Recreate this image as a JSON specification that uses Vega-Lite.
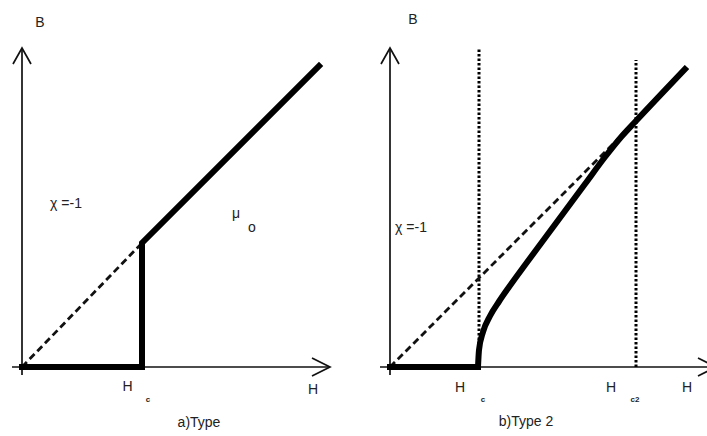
{
  "$schema": "https://vega.github.io/schema/vega-lite/v6.json",
  "padding": 0,
  "spacing": 0,
  "background": "white",
  "config": {"view": {"stroke": null}, "concat": {"spacing": 0}},
  "datasets": {
    "linesA": [
      {"kind": "axis", "seg": "y", "i": 0, "H": 0, "B": -0.8},
      {"kind": "axis", "seg": "y", "i": 1, "H": 0, "B": 31.9},
      {"kind": "axis", "seg": "yarrow", "i": 0, "H": -0.9, "B": 30.3},
      {"kind": "axis", "seg": "yarrow", "i": 1, "H": 0, "B": 31.9},
      {"kind": "axis", "seg": "yarrow", "i": 2, "H": 0.9, "B": 30.3},
      {"kind": "axis", "seg": "x", "i": 0, "H": -1.0, "B": 0},
      {"kind": "axis", "seg": "x", "i": 1, "H": 30.8, "B": 0},
      {"kind": "axis", "seg": "xarrow", "i": 0, "H": 29.0, "B": 0.9},
      {"kind": "axis", "seg": "xarrow", "i": 1, "H": 30.8, "B": 0},
      {"kind": "axis", "seg": "xarrow", "i": 2, "H": 29.0, "B": -0.9},
      {"kind": "B", "seg": "B", "i": 0, "H": 0, "B": 0},
      {"kind": "B", "seg": "B", "i": 1, "H": 12.0, "B": 0},
      {"kind": "B", "seg": "B", "i": 2, "H": 12.0, "B": 12.4},
      {"kind": "B", "seg": "B", "i": 3, "H": 29.7, "B": 30.1},
      {"kind": "mu0H", "seg": "ref", "i": 0, "H": 0, "B": 0},
      {"kind": "mu0H", "seg": "ref", "i": 1, "H": 12.0, "B": 12.4}
    ],
    "textA": [
      {"role": "label", "text": "B", "H": 1.8, "B": 34.4},
      {"role": "label", "text": "χ  =-1", "H": 4.4, "B": 16.3},
      {"role": "label", "text": "μ", "H": 21.4, "B": 15.3},
      {"role": "label", "text": "o", "H": 23.0, "B": 13.9},
      {"role": "label", "text": "H", "H": 10.55, "B": -2.0},
      {"role": "sub", "text": "c", "H": 12.6, "B": -3.25},
      {"role": "label", "text": "H", "H": 29.1, "B": -2.3},
      {"role": "label", "text": "a)Type", "H": 17.7, "B": -5.6}
    ],
    "linesB": [
      {"kind": "axis", "seg": "y", "i": 0, "H": 0, "B": -0.8},
      {"kind": "axis", "seg": "y", "i": 1, "H": 0, "B": 31.9},
      {"kind": "axis", "seg": "yarrow", "i": 0, "H": -0.9, "B": 30.3},
      {"kind": "axis", "seg": "yarrow", "i": 1, "H": 0, "B": 31.9},
      {"kind": "axis", "seg": "yarrow", "i": 2, "H": 0.9, "B": 30.3},
      {"kind": "axis", "seg": "x", "i": 0, "H": -1.0, "B": 0},
      {"kind": "axis", "seg": "x", "i": 1, "H": 32.6, "B": 0},
      {"kind": "axis", "seg": "xarrow", "i": 0, "H": 30.8, "B": 0.9},
      {"kind": "axis", "seg": "xarrow", "i": 1, "H": 32.6, "B": 0},
      {"kind": "axis", "seg": "xarrow", "i": 2, "H": 30.8, "B": -0.9},
      {"kind": "Bflat", "seg": "B", "i": 0, "H": 0, "B": 0},
      {"kind": "Bflat", "seg": "B", "i": 1, "H": 8.8, "B": 0},
      {"kind": "B", "seg": "B", "i": 1, "H": 8.8, "B": 0},
      {"kind": "B", "seg": "B", "i": 2, "H": 8.9, "B": 1.7},
      {"kind": "B", "seg": "B", "i": 3, "H": 9.3, "B": 3.5},
      {"kind": "B", "seg": "B", "i": 4, "H": 10.0, "B": 5.1},
      {"kind": "B", "seg": "B", "i": 5, "H": 10.9, "B": 6.55},
      {"kind": "B", "seg": "B", "i": 6, "H": 11.9, "B": 8.0},
      {"kind": "B", "seg": "B", "i": 7, "H": 13.5, "B": 10.2},
      {"kind": "B", "seg": "B", "i": 8, "H": 15.5, "B": 12.9},
      {"kind": "B", "seg": "B", "i": 9, "H": 17.5, "B": 15.6},
      {"kind": "B", "seg": "B", "i": 10, "H": 19.5, "B": 18.3},
      {"kind": "B", "seg": "B", "i": 11, "H": 21.5, "B": 21.0},
      {"kind": "B", "seg": "B", "i": 12, "H": 23.2, "B": 23.1},
      {"kind": "B", "seg": "B", "i": 13, "H": 24.5, "B": 24.5},
      {"kind": "B", "seg": "B", "i": 14, "H": 29.7, "B": 30.0},
      {"kind": "mu0H", "seg": "ref", "i": 0, "H": 0, "B": 0},
      {"kind": "mu0H", "seg": "ref", "i": 1, "H": 24.5, "B": 24.5},
      {"kind": "field", "seg": "Hc1", "i": 0, "H": 8.9, "B": 0},
      {"kind": "field", "seg": "Hc1", "i": 1, "H": 8.9, "B": 31.9},
      {"kind": "field", "seg": "Hc2", "i": 0, "H": 24.6, "B": 0},
      {"kind": "field", "seg": "Hc2", "i": 1, "H": 24.6, "B": 30.7}
    ],
    "textB": [
      {"role": "label", "text": "B", "H": 2.3, "B": 34.7},
      {"role": "label", "text": "χ  =-1", "H": 2.1, "B": 13.9},
      {"role": "label", "text": "H", "H": 7.0, "B": -2.1},
      {"role": "sub", "text": "c", "H": 9.3, "B": -3.3},
      {"role": "label", "text": "H", "H": 22.1, "B": -2.1},
      {"role": "sub", "text": "c2", "H": 24.5, "B": -3.25},
      {"role": "label", "text": "H", "H": 29.7, "B": -2.1},
      {"role": "label", "text": "b)Type 2", "H": 13.6, "B": -5.5}
    ]
  },
  "hconcat": [
    {
      "width": 353,
      "height": 436,
      "encoding": {
        "x": {"field": "H", "type": "quantitative", "axis": null, "scale": {"domain": [-2.2, 33.1], "nice": false, "zero": false}},
        "y": {"field": "B", "type": "quantitative", "axis": null, "scale": {"domain": [-6.9, 36.7], "nice": false, "zero": false}}
      },
      "layer": [
        {
          "data": {"name": "linesA"},
          "transform": [{"filter": "datum.kind === 'axis'"}],
          "mark": {"type": "line", "color": "#111", "strokeWidth": 1.7},
          "encoding": {"detail": {"field": "seg"}, "order": {"field": "i"}}
        },
        {
          "data": {"name": "linesA"},
          "transform": [{"filter": "datum.kind === 'mu0H'"}],
          "mark": {"type": "line", "color": "#111", "strokeWidth": 2.8, "strokeDash": [7, 4]},
          "encoding": {"order": {"field": "i"}}
        },
        {
          "data": {"name": "linesA"},
          "transform": [{"filter": "datum.kind === 'B'"}],
          "mark": {"type": "line", "color": "#000", "strokeWidth": 6, "strokeJoin": "miter", "strokeCap": "square"},
          "encoding": {"order": {"field": "i"}}
        },
        {
          "data": {"name": "textA"},
          "transform": [{"filter": "datum.role === 'label'"}],
          "mark": {"type": "text", "font": "Liberation Sans", "fontSize": 14, "color": "#222", "align": "center", "baseline": "middle"},
          "encoding": {"text": {"field": "text"}}
        },
        {
          "data": {"name": "textA"},
          "transform": [{"filter": "datum.role === 'sub'"}],
          "mark": {"type": "text", "font": "Liberation Sans", "fontSize": 8, "fontWeight": "bold", "color": "#222", "align": "center", "baseline": "middle"},
          "encoding": {"text": {"field": "text"}}
        }
      ]
    },
    {
      "width": 354,
      "height": 436,
      "encoding": {
        "x": {"field": "H", "type": "quantitative", "axis": null, "scale": {"domain": [-3.7, 31.7], "nice": false, "zero": false}},
        "y": {"field": "B", "type": "quantitative", "axis": null, "scale": {"domain": [-6.9, 36.7], "nice": false, "zero": false}}
      },
      "layer": [
        {
          "data": {"name": "linesB"},
          "transform": [{"filter": "datum.kind === 'axis'"}],
          "mark": {"type": "line", "color": "#111", "strokeWidth": 1.7, "clip": true},
          "encoding": {"detail": {"field": "seg"}, "order": {"field": "i"}}
        },
        {
          "data": {"name": "linesB"},
          "transform": [{"filter": "datum.kind === 'field'"}],
          "mark": {"type": "line", "color": "#000", "strokeWidth": 3, "strokeDash": [2.5, 2], "clip": true},
          "encoding": {"detail": {"field": "seg"}, "order": {"field": "i"}}
        },
        {
          "data": {"name": "linesB"},
          "transform": [{"filter": "datum.kind === 'mu0H'"}],
          "mark": {"type": "line", "color": "#111", "strokeWidth": 2.8, "strokeDash": [7, 4], "clip": true},
          "encoding": {"order": {"field": "i"}}
        },
        {
          "data": {"name": "linesB"},
          "transform": [{"filter": "datum.kind === 'Bflat'"}],
          "mark": {"type": "line", "color": "#000", "strokeWidth": 6, "strokeCap": "square", "clip": true},
          "encoding": {"order": {"field": "i"}}
        },
        {
          "data": {"name": "linesB"},
          "transform": [{"filter": "datum.kind === 'B'"}],
          "mark": {"type": "line", "color": "#000", "strokeWidth": 6, "strokeJoin": "round", "strokeCap": "butt", "interpolate": "monotone", "clip": true},
          "encoding": {"order": {"field": "i"}}
        },
        {
          "data": {"name": "textB"},
          "transform": [{"filter": "datum.role === 'label'"}],
          "mark": {"type": "text", "font": "Liberation Sans", "fontSize": 14, "color": "#222", "align": "center", "baseline": "middle"},
          "encoding": {"text": {"field": "text"}}
        },
        {
          "data": {"name": "textB"},
          "transform": [{"filter": "datum.role === 'sub'"}],
          "mark": {"type": "text", "font": "Liberation Sans", "fontSize": 8, "fontWeight": "bold", "color": "#222", "align": "center", "baseline": "middle"},
          "encoding": {"text": {"field": "text"}}
        }
      ]
    }
  ]
}
